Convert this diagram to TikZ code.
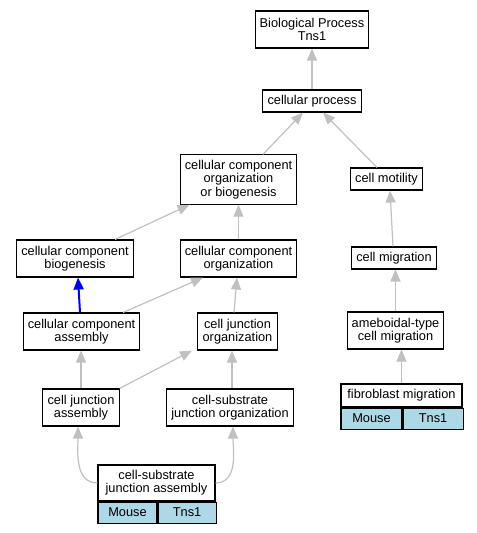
\documentclass[tikz,border=0pt]{standalone}
\usepackage{fontspec}
\setmainfont{Liberation Sans}
\usetikzlibrary{arrows.meta,positioning,calc}
\definecolor{edgegray}{HTML}{C0C0C0}
\definecolor{orgblue}{HTML}{ADD8E6}

\begin{document}
\begin{tikzpicture}[
  x=0.75pt, y=-0.75pt,
  font=\fontsize{9.6}{10}\selectfont,
  >={Triangle[length=9pt,width=7.5pt]},
  term/.style={draw, line width=0.8pt, fill=white, align=center, inner xsep=3.5pt, inner ysep=1pt, minimum height=16.5pt},
  term2/.style={term, minimum height=27.75pt},
  term3/.style={term, minimum height=37pt},
  cell/.style={draw, line width=0.8pt, fill=orgblue, inner sep=0pt, minimum height=15.75pt},
  isa/.style={->, edgegray, line width=0.9pt},
  partof/.style={->, blue, line width=1.5pt},
]
\useasboundingbox (0,0) rectangle (477,533);

\node[term2] (bp) at (312,29.5) {Biological Process\\Tns1};
\node[term] (cp) at (312,101) {cellular process};
\node[term3] (ccob) at (238.5,179.5) {cellular component\\organization\\or biogenesis};
\node[term] (cmot) at (386.5,179) {cell motility};
\node[term2] (ccb) at (75,258.5) {cellular component\\biogenesis};
\node[term2] (cco) at (238.5,258.5) {cellular component\\organization};
\node[term] (cmig) at (394,258) {cell migration};
\node[term2] (cca) at (81.5,331.5) {cellular component\\assembly};
\node[term2] (cjo) at (237.5,331.5) {cell junction\\organization};
\node[term2] (amcm) at (395.5,330.5) {ameboidal-type\\cell migration};
\node[term2] (cja) at (81,407.5) {cell junction\\assembly};
\node[term2] (csjo) at (230,407.5) {cell-substrate\\junction organization};

% annotated terms
\node[term, minimum width=90.75pt, minimum height=17.25pt] (fm) at (401.5,395.5) {fibroblast migration};
\node[cell, minimum width=45.75pt, anchor=north west] (fmm) at (fm.south west) {Mouse};
\node[cell, minimum width=45pt, anchor=north west] (fmt) at (fmm.north east) {Tns1};
\node[term2, minimum width=87.75pt, minimum height=27pt] (csja) at (156.5,483) {cell-substrate\\junction assembly};
\node[cell, minimum width=44.25pt, anchor=north west] (csjam) at (csja.south west) {Mouse};
\node[cell, minimum width=43.5pt, anchor=north west] (csjat) at (csjam.north east) {Tns1};

\draw[isa] (cp) -- (bp);
\draw[isa] ($(ccob.north)+(24.5,0)$) -- ($(cp.south)+(-9,0)$);
\draw[isa] ($(cmot.north)+(-9.5,0)$) -- ($(cp.south)+(11,0)$);
\draw[isa] ($(ccb.north)+(40,0)$) -- ($(ccob.south west)+(10,0)$);
\draw[isa] (cco) -- (ccob);
\draw[isa] ($(cmig.north)+(-1,0)$) -- ($(cmot.south)+(3.5,0)$);
\draw[partof] ($(cca.north)+(-1.5,0)$) -- ($(ccb.south)+(3,0)$);
\draw[isa] ($(cca.north)+(41.5,0)$) -- ($(cco.south)+(-35.5,0)$);
\draw[isa] ($(cjo.north)+(-3.5,0)$) -- ($(cco.south)+(-1.5,0)$);
\draw[isa] (amcm.north) -- (amcm.north |- cmig.south);
\draw[isa] (cja.north) -- (cja.north |- cca.south);
\draw[isa] (cja.north east) -- ($(cjo.south)+(-45.5,0)$);
\draw[isa] ($(csjo.north)+(2,0)$) -- ($(cjo.south)+(-5.5,0)$);
\draw[isa] (fm.north) -- (fm.north |- amcm.south);
\draw[isa] (csja.west) to[out=180,in=-90] ($(cja.south)+(-3,0)$);
\draw[isa] (csja.east) to[out=0,in=-90] ($(csjo.south)+(3,0)$);
\end{tikzpicture}
\end{document}
